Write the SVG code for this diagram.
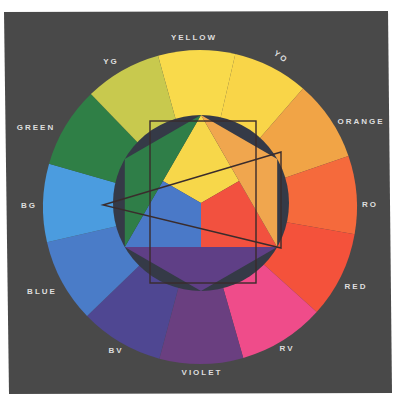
<svg xmlns="http://www.w3.org/2000/svg" width="393" height="396" viewBox="0 0 393 396">
<style>
.lbl{font-family:"Liberation Sans",Arial,sans-serif;font-size:8px;font-weight:bold;letter-spacing:2px;fill:#dedede;text-anchor:middle;dominant-baseline:central}
.ovl{fill:none;stroke:#3a2c2c;stroke-width:1.4}
</style>
<rect x="0" y="0" width="393" height="396" fill="#ffffff"/>
<polygon points="4,12 388,11 392,393 9,394" fill="#494949"/>
<g id="outer-ring">
<path id="yellow" d="M200,207 L158.05,55.71 A157,157 0 0 1 235.32,54.02 Z" fill="#f9da4b"/>
<path id="yo" d="M200,207 L235.32,54.02 A157,157 0 0 1 303.0,88.51 Z" fill="#f9d548"/>
<path id="orange" d="M200,207 L303.0,88.51 A157,157 0 0 1 348.45,155.89 Z" fill="#f1a446"/>
<path id="ro" d="M200,207 L348.45,155.89 A157,157 0 0 1 354.61,234.26 Z" fill="#f56a3c"/>
<path id="red" d="M200,207 L354.61,234.26 A157,157 0 0 1 316.67,312.05 Z" fill="#f4523b"/>
<path id="rv" d="M200,207 L316.67,312.05 A157,157 0 0 1 243.27,357.92 Z" fill="#ef4c8a"/>
<path id="violet" d="M200,207 L243.27,357.92 A157,157 0 0 1 159.37,358.65 Z" fill="#6a3f80"/>
<path id="bv" d="M200,207 L159.37,358.65 A157,157 0 0 1 87.07,316.07 Z" fill="#4f4792"/>
<path id="blue" d="M200,207 L87.07,316.07 A157,157 0 0 1 47.02,242.33 Z" fill="#4a7cc8"/>
<path id="bg" d="M200,207 L47.02,242.33 A157,157 0 0 1 49.08,163.73 Z" fill="#4b9cdf"/>
<path id="green" d="M200,207 L49.08,163.73 A157,157 0 0 1 90.93,94.07 Z" fill="#2f7f46"/>
<path id="yg" d="M200,207 L90.93,94.07 A157,157 0 0 1 158.05,55.71 Z" fill="#c8c94e"/>
</g>
<g id="inner">
<circle cx="201" cy="203" r="88" fill="#353a47"/>
<polygon id="in-yellow" points="201,115 239.1,181 201,203 162.9,181" fill="#f7d74a"/>
<polygon id="in-red" points="277.2,247 201,247 201,203 239.1,181" fill="#f2513f"/>
<polygon id="in-blue" points="124.8,247 162.9,181 201,203 201,247" fill="#4a79c8"/>
<polygon id="in-orange" points="201,115 277.2,159 277.2,247" fill="#f0a64e"/>
<polygon id="in-violet" points="277.2,247 201,291 124.8,247" fill="#5f3f86"/>
<polygon id="in-green" points="124.8,247 124.8,159 201,115" fill="#2f7e48"/>
</g>
<g id="overlays">
<rect class="ovl" x="150" y="121" width="106" height="162"/>
<polygon class="ovl" points="103,205 281,152 281,248"/>
</g>
<g id="labels">
<text class="lbl" x="194" y="37">YELLOW</text>
<text class="lbl" x="281" y="57" transform="rotate(35 281 57)">YO</text>
<text class="lbl" x="361" y="121">ORANGE</text>
<text class="lbl" x="370" y="204">RO</text>
<text class="lbl" x="356" y="286">RED</text>
<text class="lbl" x="287" y="348">RV</text>
<text class="lbl" x="202" y="372">VIOLET</text>
<text class="lbl" x="116" y="350">BV</text>
<text class="lbl" x="42" y="291">BLUE</text>
<text class="lbl" x="29" y="205">BG</text>
<text class="lbl" x="36" y="127">GREEN</text>
<text class="lbl" x="111" y="61">YG</text>
</g>
</svg>
